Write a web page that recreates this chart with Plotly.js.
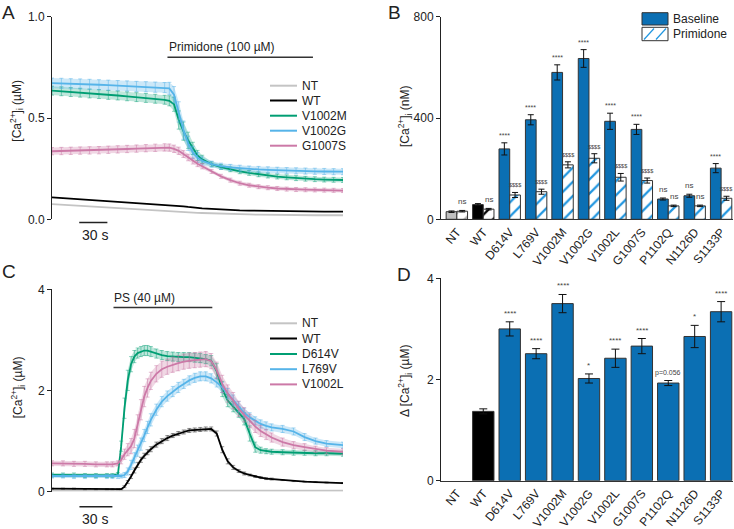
<!DOCTYPE html>
<html>
<head>
<meta charset="utf-8">
<script src="https://cdn.plot.ly/plotly-3.0.1.min.js"></script>
<style>html,body{margin:0;padding:0;background:#fff}#fig{width:734px;height:529px}</style>
</head>
<body>
<div id="fig"></div>
<script>
// ---------- A: primidone, [Ca2+]i traces (µM) ----------
const timeA = [0,10,20,30,40,50,60,70,80,90,100,110,120,125,130,135,140,145,150,155,160,170,180,190,200,210,220,230,240,250,260,270,280,290,300,310];
const ntA = [0.075,0.072,0.069,0.066,0.063,0.060,0.057,0.054,0.051,0.048,0.045,0.042,0.039,0.038,0.037,0.036,0.035,0.034,0.033,0.032,0.031,0.029,0.027,0.026,0.025,0.024,0.023,0.022,0.022,0.021,0.021,0.020,0.020,0.020,0.020,0.020];
const wtA = [0.108,0.105,0.102,0.099,0.096,0.093,0.091,0.088,0.085,0.082,0.079,0.076,0.073,0.071,0.069,0.067,0.064,0.061,0.058,0.056,0.054,0.051,0.048,0.046,0.044,0.043,0.042,0.041,0.040,0.040,0.039,0.039,0.038,0.038,0.038,0.038];
const v1002mA = [0.635,0.632,0.628,0.625,0.621,0.618,0.614,0.611,0.607,0.603,0.599,0.595,0.590,0.585,0.568,0.490,0.435,0.390,0.350,0.315,0.296,0.272,0.258,0.247,0.237,0.229,0.222,0.216,0.211,0.207,0.203,0.200,0.198,0.196,0.195,0.194];
const v1002mErrA = [0.022,0.022,0.022,0.022,0.022,0.022,0.022,0.022,0.022,0.022,0.022,0.022,0.022,0.025,0.035,0.045,0.045,0.040,0.030,0.025,0.020,0.012,0.012,0.012,0.012,0.012,0.012,0.012,0.012,0.012,0.012,0.012,0.012,0.012,0.012,0.012];
const v1002gA = [0.672,0.671,0.669,0.668,0.666,0.664,0.662,0.660,0.658,0.656,0.654,0.652,0.650,0.646,0.615,0.530,0.440,0.375,0.330,0.305,0.288,0.272,0.262,0.256,0.252,0.248,0.246,0.244,0.242,0.240,0.239,0.238,0.237,0.236,0.235,0.235];
const v1002gErrA = [0.025,0.025,0.025,0.025,0.025,0.025,0.025,0.025,0.025,0.025,0.025,0.025,0.025,0.030,0.040,0.050,0.045,0.035,0.030,0.025,0.020,0.015,0.015,0.015,0.015,0.015,0.015,0.015,0.015,0.015,0.015,0.015,0.015,0.015,0.015,0.015];
const g1007sA = [0.336,0.337,0.338,0.339,0.340,0.341,0.343,0.345,0.347,0.349,0.351,0.353,0.355,0.354,0.348,0.338,0.322,0.305,0.288,0.274,0.262,0.236,0.212,0.193,0.178,0.168,0.161,0.156,0.152,0.149,0.147,0.146,0.145,0.144,0.143,0.142];
const g1007sErrA = [0.018,0.018,0.018,0.018,0.018,0.018,0.018,0.018,0.018,0.018,0.018,0.018,0.018,0.018,0.018,0.018,0.017,0.016,0.015,0.014,0.013,0.010,0.010,0.010,0.010,0.010,0.010,0.010,0.010,0.010,0.010,0.010,0.010,0.010,0.010,0.010];

// ---------- B: basal [Ca2+]i (nM), baseline vs primidone ----------
const categories = ['NT','WT','D614V','L769V','V1002M','V1002G','V1002L','G1007S','P1102Q','N1126D','S1133P'];
const baselineB = [30, 58, 278, 393, 580, 635, 387, 355, 80, 93, 202];
const baselineErrB = [3, 4, 24, 20, 30, 35, 32, 20, 4, 6, 18];
const primidoneB = [32, 40, 96, 109, 215, 241, 166, 153, 53, 53, 83];
const primidoneErrB = [3, 3, 10, 10, 12, 18, 15, 10, 3, 3, 8];
const baselineSigB = ['', '', '****', '****', '****', '****', '****', '****', 'ns', 'ns', '****'];
const primidoneSigB = ['ns', 'ns', '$$$$', '$$$$', '$$$$', '$$$$', '$$$$', '$$$$', 'ns', 'ns', '$$$$'];

// ---------- C: PS, [Ca2+]i traces (µM) ----------
const timeC = [0,10,20,30,40,50,55,60,63,66,69,72,75,78,81,84,87,90,95,100,105,110,115,120,125,130,135,140,145,150,155,160,165,170,175,180,185,190,195,200,210,220,230,240,250,265];
const ntC = [0.02,0.02,0.02,0.02,0.02,0.02,0.02,0.02,0.02,0.02,0.02,0.02,0.02,0.02,0.02,0.02,0.02,0.02,0.02,0.02,0.02,0.02,0.02,0.02,0.02,0.02,0.02,0.02,0.02,0.02,0.02,0.02,0.02,0.02,0.02,0.02,0.02,0.02,0.02,0.02,0.02,0.02,0.02,0.02,0.02,0.02];
const wtC = [0.06,0.06,0.06,0.05,0.05,0.05,0.05,0.05,0.05,0.10,0.19,0.30,0.42,0.53,0.63,0.71,0.78,0.84,0.93,1.00,1.06,1.11,1.15,1.18,1.21,1.22,1.23,1.24,1.24,1.15,0.83,0.60,0.48,0.41,0.36,0.33,0.30,0.28,0.26,0.25,0.23,0.21,0.20,0.19,0.18,0.17];
const wtErrC = [0.01,0.01,0.01,0.01,0.01,0.01,0.01,0.01,0.01,0.02,0.03,0.04,0.05,0.05,0.05,0.05,0.05,0.05,0.05,0.05,0.05,0.04,0.04,0.04,0.04,0.04,0.04,0.04,0.04,0.05,0.06,0.05,0.04,0.03,0.03,0.02,0.02,0.02,0.02,0.02,0.01,0.01,0.01,0.01,0.01,0.01];
const d614vC = [0.33,0.33,0.33,0.32,0.32,0.32,0.32,0.34,0.90,1.65,2.20,2.52,2.67,2.74,2.77,2.79,2.79,2.77,2.73,2.70,2.68,2.67,2.66,2.66,2.66,2.65,2.64,2.62,2.59,2.38,2.03,1.80,1.68,1.57,1.44,1.15,0.88,0.82,0.80,0.79,0.78,0.77,0.77,0.76,0.76,0.75];
const d614vErrC = [0.04,0.04,0.04,0.04,0.04,0.04,0.04,0.04,0.10,0.20,0.20,0.15,0.12,0.10,0.10,0.10,0.10,0.10,0.09,0.09,0.09,0.09,0.09,0.09,0.09,0.09,0.09,0.09,0.10,0.15,0.15,0.12,0.10,0.10,0.12,0.15,0.10,0.06,0.05,0.05,0.05,0.05,0.05,0.05,0.05,0.05];
const l769vC = [0.31,0.31,0.30,0.30,0.30,0.30,0.30,0.30,0.31,0.33,0.40,0.53,0.67,0.81,0.94,1.11,1.27,1.42,1.62,1.78,1.89,1.98,2.06,2.13,2.20,2.25,2.28,2.28,2.24,2.16,2.06,1.94,1.81,1.68,1.56,1.47,1.40,1.34,1.30,1.27,1.24,1.19,1.08,1.00,0.95,0.92];
const l769vErrC = [0.04,0.04,0.04,0.04,0.04,0.04,0.04,0.04,0.04,0.05,0.07,0.09,0.10,0.11,0.12,0.12,0.12,0.12,0.11,0.10,0.10,0.10,0.10,0.09,0.09,0.09,0.09,0.09,0.09,0.09,0.10,0.10,0.10,0.10,0.09,0.09,0.08,0.08,0.08,0.07,0.07,0.07,0.07,0.06,0.06,0.06];
const v1002lC = [0.56,0.56,0.55,0.55,0.54,0.54,0.54,0.56,0.63,0.74,0.83,0.90,1.05,1.32,1.62,1.88,2.05,2.19,2.33,2.42,2.47,2.51,2.54,2.57,2.59,2.60,2.61,2.62,2.58,2.40,2.13,1.94,1.80,1.64,1.52,1.40,1.29,1.20,1.13,1.07,0.98,0.92,0.88,0.84,0.81,0.79];
const v1002lErrC = [0.05,0.05,0.05,0.05,0.05,0.05,0.05,0.05,0.08,0.10,0.12,0.15,0.18,0.20,0.20,0.20,0.18,0.17,0.16,0.16,0.15,0.15,0.15,0.15,0.15,0.15,0.15,0.15,0.15,0.16,0.17,0.17,0.16,0.15,0.14,0.13,0.12,0.11,0.10,0.09,0.08,0.07,0.07,0.06,0.06,0.06];

// ---------- D: peak Δ[Ca2+]i after PS (µM) ----------
const deltaD = [null, 1.37, 3.00, 2.51, 3.50, 2.02, 2.42, 2.66, 1.93, 2.85, 3.34];
const deltaErrD = [0, 0.05, 0.14, 0.10, 0.18, 0.09, 0.18, 0.15, 0.05, 0.22, 0.20];
const deltaSigD = ['', '', '****', '****', '****', '*', '****', '****', 'p=0.056', '*', '****'];

// ---------- styling ----------
const FONT = 'Liberation Sans, Arial, sans-serif';
const W = 734, H = 529;
const px = v => v / W;
const py = v => 1 - v / H;
const C_NT = '#c4c4c4', C_WT = '#000000', C_GREEN = '#009e73', C_BLUE = '#56b4e9', C_PINK = '#cc79a7';
const C_BAR = '#0b6fb3', C_HATCH = '#2196e0';

function band(t, y, err, fill, xa, ya) {
  const up = y.map((v, i) => v + err[i]);
  const lo = y.map((v, i) => v - err[i]);
  return [
    {x: t, y: up, xaxis: xa, yaxis: ya, mode: 'lines', line: {width: 0}, hoverinfo: 'skip', showlegend: false},
    {x: t, y: lo, xaxis: xa, yaxis: ya, mode: 'lines', line: {width: 0}, fill: 'tonexty', fillcolor: fill, hoverinfo: 'skip', showlegend: false}
  ];
}
function meanLine(t, y, err, color, errColor, xa, ya) {
  const tr = {x: t, y: y, xaxis: xa, yaxis: ya, mode: 'lines', line: {color: color, width: 1.8}, showlegend: false};
  if (err) tr.error_y = {type: 'data', array: err, color: errColor, thickness: 1, width: 2};
  return tr;
}

const data = [];
// A
data.push(...band(timeA, v1002mA, v1002mErrA, 'rgba(0,158,115,0.25)', 'x', 'y'));
data.push(...band(timeA, v1002gA, v1002gErrA, 'rgba(86,180,233,0.3)', 'x', 'y'));
data.push(...band(timeA, g1007sA, g1007sErrA, 'rgba(204,121,167,0.3)', 'x', 'y'));
data.push(meanLine(timeA, ntA, null, C_NT, null, 'x', 'y'));
data.push(meanLine(timeA, wtA, null, C_WT, null, 'x', 'y'));
data.push(meanLine(timeA, v1002mA, v1002mErrA, C_GREEN, 'rgba(0,158,115,0.45)', 'x', 'y'));
data.push(meanLine(timeA, v1002gA, v1002gErrA, C_BLUE, 'rgba(86,180,233,0.5)', 'x', 'y'));
data.push(meanLine(timeA, g1007sA, g1007sErrA, C_PINK, 'rgba(204,121,167,0.5)', 'x', 'y'));
// C
data.push(...band(timeC, wtC, wtErrC, 'rgba(0,0,0,0.15)', 'x3', 'y3'));
data.push(...band(timeC, d614vC, d614vErrC, 'rgba(0,158,115,0.25)', 'x3', 'y3'));
data.push(...band(timeC, l769vC, l769vErrC, 'rgba(86,180,233,0.3)', 'x3', 'y3'));
data.push(...band(timeC, v1002lC, v1002lErrC, 'rgba(204,121,167,0.3)', 'x3', 'y3'));
data.push(meanLine(timeC, ntC, null, C_NT, null, 'x3', 'y3'));
data.push(meanLine(timeC, wtC, wtErrC, C_WT, 'rgba(0,0,0,0.4)', 'x3', 'y3'));
data.push(meanLine(timeC, d614vC, d614vErrC, C_GREEN, 'rgba(0,158,115,0.45)', 'x3', 'y3'));
data.push(meanLine(timeC, l769vC, l769vErrC, C_BLUE, 'rgba(86,180,233,0.5)', 'x3', 'y3'));
data.push(meanLine(timeC, v1002lC, v1002lErrC, C_PINK, 'rgba(204,121,167,0.5)', 'x3', 'y3'));

// B bars
const baseColors = categories.map((c, i) => i === 0 ? '#c0c0c0' : i === 1 ? '#000000' : C_BAR);
const hatchColors = categories.map((c, i) => i === 0 ? '#b0b0b0' : i === 1 ? '#000000' : C_HATCH);
data.push({type: 'bar', x: categories, y: baselineB, xaxis: 'x2', yaxis: 'y2', showlegend: false,
  marker: {color: baseColors, line: {color: '#333', width: 1}},
  error_y: {type: 'data', array: baselineErrB, color: '#111', thickness: 1, width: 3}});
data.push({type: 'bar', x: categories, y: primidoneB, xaxis: 'x2', yaxis: 'y2', showlegend: false,
  marker: {color: 'white', line: {color: '#333', width: 1},
    pattern: {shape: '/', fgcolor: hatchColors, bgcolor: 'white', size: 10, solidity: 0.22}},
  error_y: {type: 'data', array: primidoneErrB, color: '#111', thickness: 1, width: 3}});
// D bars
data.push({type: 'bar', x: categories, y: deltaD, xaxis: 'x4', yaxis: 'y4', showlegend: false,
  marker: {color: baseColors, line: {color: '#333', width: 1}},
  error_y: {type: 'data', array: deltaErrD, color: '#111', thickness: 1, width: 4}});

const yBase = {showline: true, linecolor: '#222', linewidth: 1, ticks: 'outside', ticklen: 4, tickcolor: '#222',
  tickfont: {family: FONT, size: 12, color: '#222'}, showgrid: false, zeroline: false, fixedrange: true};
const xCat = {type: 'category', range: [-0.6, 10.45], showline: true, linecolor: '#333', linewidth: 1, ticks: '',
  tickangle: -50, tickfont: {family: FONT, size: 12, color: '#222'}, showgrid: false, zeroline: false, fixedrange: true};

const shapes = [];
const annotations = [];
function label(x, y, text, size, opts) {
  annotations.push(Object.assign({xref: 'paper', yref: 'paper', x: px(x), y: py(y), text: text, showarrow: false,
    xanchor: 'center', yanchor: 'middle', font: {family: FONT, size: size, color: '#222'}}, opts || {}));
}
// panel letters
label(0, 0, 'A', 19, {xanchor: 'left', yanchor: 'top'});
label(386, 0, 'B', 19, {xanchor: 'left', yanchor: 'top'});
label(0, 259, 'C', 19, {xanchor: 'left', yanchor: 'top'});
label(395, 262, 'D', 19, {xanchor: 'left', yanchor: 'top'});
// y titles
label(16.7, 111, '[Ca<sup>2+</sup>]<sub>i</sub> (µM)', 12, {textangle: -90});
label(405, 117, '[Ca<sup>2+</sup>]<sub>i</sub> (nM)', 12, {textangle: -90});
label(18.3, 387, '[Ca<sup>2+</sup>]<sub>i</sub> (µM)', 12, {textangle: -90});
label(405, 381, 'Δ [Ca<sup>2+</sup>]<sub>i</sub> (µM)', 12, {textangle: -90});

// scale bars and drug application bars
shapes.push({type: 'line', xref: 'x', yref: 'paper', x0: 29, x1: 59, y0: py(222.5), y1: py(222.5), line: {color: '#222', width: 1.5}});
annotations.push({xref: 'x', yref: 'paper', x: 46, y: py(235), xanchor: 'center', yanchor: 'middle', text: '30 s', showarrow: false, font: {family: FONT, size: 14, color: '#222'}});
shapes.push({type: 'line', xref: 'x', yref: 'y', x0: 123, x1: 278, y0: 0.8, y1: 0.8, line: {color: '#333', width: 1.5}});
annotations.push({xref: 'x', yref: 'y', x: 122, y: 0.8, yshift: 1, xanchor: 'left', yanchor: 'bottom', text: 'Primidone (100 µM)', showarrow: false, font: {family: FONT, size: 12, color: '#222'}});
shapes.push({type: 'line', xref: 'x3', yref: 'paper', x0: 25, x1: 55, y0: py(506.7), y1: py(506.7), line: {color: '#222', width: 1.5}});
annotations.push({xref: 'x3', yref: 'paper', x: 39, y: py(518.5), xanchor: 'center', yanchor: 'middle', text: '30 s', showarrow: false, font: {family: FONT, size: 14, color: '#222'}});
shapes.push({type: 'line', xref: 'x3', yref: 'y3', x0: 56, x1: 146, y0: 3.64, y1: 3.64, line: {color: '#333', width: 1.5}});
annotations.push({xref: 'x3', yref: 'y3', x: 55, y: 3.64, yshift: 1, xanchor: 'left', yanchor: 'bottom', text: 'PS (40 µM)', showarrow: false, font: {family: FONT, size: 12, color: '#222'}});

// line legends (A and C)
function lineLegend(rows) {
  rows.forEach(r => {
    shapes.push({type: 'line', xref: 'paper', yref: 'paper', x0: px(270), x1: px(297), y0: py(r[2]), y1: py(r[2]), line: {color: r[1], width: 2}});
    label(300, r[2], r[0], 12, {xanchor: 'left', yanchor: 'middle'});
  });
}
lineLegend([['NT', C_NT, 85.7], ['WT', C_WT, 100.5], ['V1002M', C_GREEN, 115.7], ['V1002G', C_BLUE, 130.7], ['G1007S', C_PINK, 145.7]]);
lineLegend([['NT', C_NT, 323.3], ['WT', C_WT, 338.5], ['D614V', C_GREEN, 354], ['L769V', C_BLUE, 369.2], ['V1002L', C_PINK, 384.4]]);

// bar legend (B)
shapes.push({type: 'rect', xref: 'paper', yref: 'paper', x0: px(642), x1: px(668), y0: py(25), y1: py(12.7), fillcolor: C_BAR, line: {color: '#333', width: 1}});
shapes.push({type: 'rect', xref: 'paper', yref: 'paper', x0: px(642), x1: px(668), y0: py(40.7), y1: py(27.3), fillcolor: 'white', line: {color: '#333', width: 1}});
shapes.push({type: 'line', xref: 'paper', yref: 'paper', x0: px(644), x1: px(654), y0: py(39.5), y1: py(28.5), line: {color: C_HATCH, width: 1.2}});
shapes.push({type: 'line', xref: 'paper', yref: 'paper', x0: px(656), x1: px(666), y0: py(39.5), y1: py(28.5), line: {color: C_HATCH, width: 1.2}});
label(671, 19, 'Baseline', 12, {xanchor: 'left', yanchor: 'middle'});
label(671, 34, 'Primidone', 12, {xanchor: 'left', yanchor: 'middle'});

// significance marks
const sigSize = s => s === '$$$$' ? 5.5 : s === 'ns' ? 8 : 7;
categories.forEach((c, i) => {
  if (baselineSigB[i]) annotations.push({xref: 'x2', yref: 'y2', x: i - 0.2025, y: baselineB[i] + baselineErrB[i], yshift: 2,
    xanchor: 'center', yanchor: 'bottom', text: baselineSigB[i], showarrow: false, font: {family: FONT, size: sigSize(baselineSigB[i]), color: '#444'}});
  if (primidoneSigB[i]) annotations.push({xref: 'x2', yref: 'y2', x: i + 0.2025, y: primidoneB[i] + primidoneErrB[i], yshift: 2,
    xanchor: 'center', yanchor: 'bottom', text: primidoneSigB[i], showarrow: false, font: {family: FONT, size: sigSize(primidoneSigB[i]), color: '#444'}});
  if (deltaSigD[i]) annotations.push({xref: 'x4', yref: 'y4', x: i, y: deltaD[i] + deltaErrD[i], yshift: 2,
    xanchor: 'center', yanchor: 'bottom', text: deltaSigD[i], showarrow: false, font: {family: FONT, size: deltaSigD[i] === 'p=0.056' ? 7 : 8, color: '#444'}});
});

const layout = {
  width: W, height: H, margin: {l: 0, r: 0, t: 0, b: 0},
  paper_bgcolor: '#fff', plot_bgcolor: 'rgba(0,0,0,0)',
  font: {family: FONT, size: 12, color: '#222'},
  showlegend: false, barmode: 'group', bargap: 0.19, bargroupgap: 0,
  xaxis: {domain: [px(52), px(343)], range: [0, 310], visible: false, fixedrange: true},
  yaxis: Object.assign({}, yBase, {domain: [py(219.3), py(16.7)], range: [0, 1], tickvals: [0, 0.5, 1], ticktext: ['0.0', '0.5', '1.0'], anchor: 'x'}),
  xaxis2: Object.assign({}, xCat, {domain: [px(441), px(733)], anchor: 'y2'}),
  yaxis2: Object.assign({}, yBase, {domain: [py(219.3), py(16.7)], range: [0, 800], tickvals: [0, 400, 800], anchor: 'x2'}),
  xaxis3: {domain: [px(52), px(343)], range: [0, 265], visible: false, fixedrange: true},
  yaxis3: Object.assign({}, yBase, {domain: [py(491.7), py(289.3)], range: [0, 4], tickvals: [0, 2, 4], anchor: 'x3'}),
  xaxis4: Object.assign({}, xCat, {domain: [px(441), px(733)], anchor: 'y4'}),
  yaxis4: Object.assign({}, yBase, {domain: [py(480.7), py(278.3)], range: [0, 4], tickvals: [0, 2, 4], anchor: 'x4'}),
  shapes: shapes,
  annotations: annotations
};

Plotly.newPlot('fig', data, layout, {displayModeBar: false, staticPlot: true});
</script>
</body>
</html>
